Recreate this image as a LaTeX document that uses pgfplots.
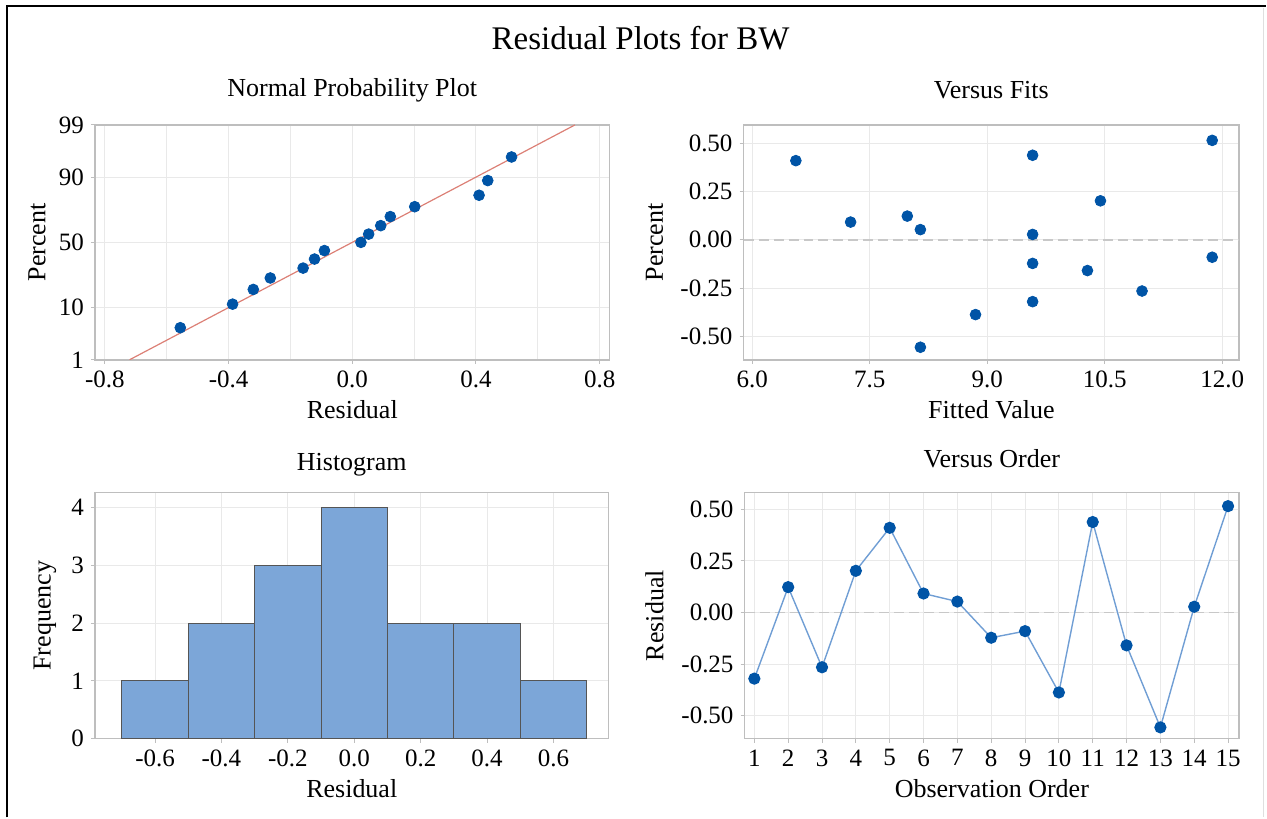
\documentclass[border=0pt]{standalone}
\usepackage{fontspec}
\setmainfont{Liberation Serif}
\usepackage{pgfplots}
\usepackage{pgfplotstable}
\pgfplotsset{compat=1.18}

\definecolor{framegray}{RGB}{190,190,190}
\definecolor{gridgray}{RGB}{233,233,233}
\definecolor{markblue}{RGB}{0,84,166}
\definecolor{lineblue}{RGB}{112,158,212}
\definecolor{fitred}{RGB}{220,128,118}
\definecolor{histfill}{RGB}{124,166,216}
\definecolor{histedge}{RGB}{85,85,85}
\definecolor{zerogray}{RGB}{200,200,200}

% order, fitted value, residual
\pgfplotstableread{
ord fit res
1  9.580  -0.320
2  7.980   0.123
3  10.977 -0.265
4  10.446  0.202
5  6.557   0.410
6  7.256   0.092
7  8.147   0.053
8  9.580  -0.122
9  11.873 -0.090
10 8.851  -0.387
11 9.580   0.438
12 10.280 -0.159
13 8.147  -0.556
14 9.580   0.028
15 11.873  0.515
}\residtab

% sorted residuals against normal scores (z of (i-0.3)/(n+0.4))
\pgfplotstableread{
res z
-0.556 -1.691
-0.387 -1.224
-0.320 -0.933
-0.265 -0.706
-0.159 -0.510
-0.122 -0.331
-0.090 -0.163
0.028   0.000
0.053   0.163
0.092   0.331
0.123   0.510
0.202   0.706
0.410   0.933
0.438   1.224
0.515   1.691
}\normtab

\pgfplotsset{
  resid/.style={
    scale only axis, anchor=north west,
    axis line style={draw=framegray, line width=0.8pt},
    tick style={draw=framegray, line width=0.5pt},
    tick align=outside, major tick length=2pt, minor tick length=0pt,
    xtick pos=left, ytick pos=left,
    grid=major,
    major grid style={draw=gridgray, line width=0.5pt},
    minor grid style={draw=gridgray, line width=0.5pt},
    ticklabel style={font=\fontsize{12.5}{14}\selectfont},
    label style={font=\fontsize{13}{15}\selectfont},
    title style={font=\fontsize{13}{15}\selectfont, at={(0.5,1)}, anchor=center},
    xlabel style={at={(0.5,0)}, anchor=center, yshift=-25pt},
    /pgf/number format/assume math mode=true,
  },
  dots/.style={only marks, mark=*, mark size=2.7pt,
    mark options={draw=markblue, fill=markblue}},
  zeroline/.style={zerogray, line width=0.8pt, dash pattern=on 5pt off 2.5pt},
}

\begin{document}
\begin{tikzpicture}
\path (0pt,0pt) rectangle (633.5pt,-409pt);
\draw[black, line width=0.8pt] (3.5pt,-409pt) -- (3.5pt,-3pt) -- (633.5pt,-3pt);
\draw[gray!25, line width=0.6pt] (632.3pt,-4pt) -- (632.3pt,-409pt);
\node[font=\fontsize{16.5}{19}\selectfont] at (320.5pt,-19pt) {Residual Plots for BW};

% Normal probability plot
\begin{axis}[resid, at={(47.5pt,-62.5pt)}, width=257.5pt, height=117.5pt,
  xmin=-0.832, xmax=0.832, ymin=-2.326, ymax=2.326,
  grid=both,
  xtick={-0.8,-0.4,0,0.4,0.8}, minor xtick={-0.6,-0.2,0.2,0.6},
  xticklabel style={/pgf/number format/.cd, fixed, fixed zerofill, precision=1},
  ytick={-2.326,-1.2816,0,1.2816,2.326}, yticklabels={1,10,50,90,99},
  title={Normal Probability Plot}, title style={yshift=11.5pt},
  xlabel={Residual}, ylabel={Percent},
  ylabel style={at={(0,0.5)}, anchor=center, yshift=29pt}]
\addplot[fitred, line width=0.6pt] coordinates {(-0.72,-2.326) (0.72,2.326)};
\addplot[dots] table[x=res, y=z] {\normtab};
\end{axis}

% Versus fits
\begin{axis}[resid, at={(372pt,-62.5pt)}, width=248pt, height=117.5pt,
  xmin=5.889, xmax=12.218, ymin=-0.621, ymax=0.595,
  xtick={6,7.5,9,10.5,12},
  xticklabel style={/pgf/number format/.cd, fixed, fixed zerofill, precision=1},
  ytick={-0.5,-0.25,0,0.25,0.5},
  yticklabel style={/pgf/number format/.cd, fixed, fixed zerofill, precision=2},
  title={Versus Fits}, title style={yshift=11.5pt},
  xlabel={Fitted Value}, ylabel={Percent},
  ylabel style={at={(0,0.5)}, anchor=center, yshift=44.5pt}]
\addplot[zeroline] coordinates {(5.889,0) (12.218,0)};
\addplot[dots] table[x=fit, y=res] {\residtab};
\end{axis}

% Histogram
\begin{axis}[resid, at={(47.5pt,-246.5pt)}, width=257pt, height=123pt,
  xmin=-0.781, xmax=0.766, ymin=0, ymax=4.26,
  xtick={-0.6,-0.4,-0.2,0,0.2,0.4,0.6},
  xticklabel style={/pgf/number format/.cd, fixed, fixed zerofill, precision=1},
  ytick={0,1,2,3,4},
  title={Histogram}, title style={yshift=8pt},
  xlabel={Residual}, ylabel={Frequency},
  ylabel style={at={(0,0.5)}, anchor=center, yshift=25pt}]
\addplot[ybar interval, fill=histfill, draw=histedge, line width=0.5pt] coordinates {
  (-0.7,1) (-0.5,2) (-0.3,3) (-0.1,4) (0.1,2) (0.3,2) (0.5,1) (0.7,1)
};
\end{axis}

% Versus order
\begin{axis}[resid, at={(372.5pt,-246.5pt)}, width=247.5pt, height=123pt,
  xmin=0.71, xmax=15.33, ymin=-0.61, ymax=0.58,
  xtick={1,2,...,15},
  ytick={-0.5,-0.25,0,0.25,0.5},
  yticklabel style={/pgf/number format/.cd, fixed, fixed zerofill, precision=2},
  title={Versus Order}, title style={yshift=11pt},
  xlabel={Observation Order}, ylabel={Residual},
  ylabel style={at={(0,0.5)}, anchor=center, yshift=45pt}]
\addplot[zeroline] coordinates {(0.71,0) (15.33,0)};
\addplot[lineblue, line width=0.7pt, mark=*, mark size=2.7pt,
  mark options={draw=markblue, fill=markblue}] table[x=ord, y=res] {\residtab};
\end{axis}
\end{tikzpicture}
\end{document}
